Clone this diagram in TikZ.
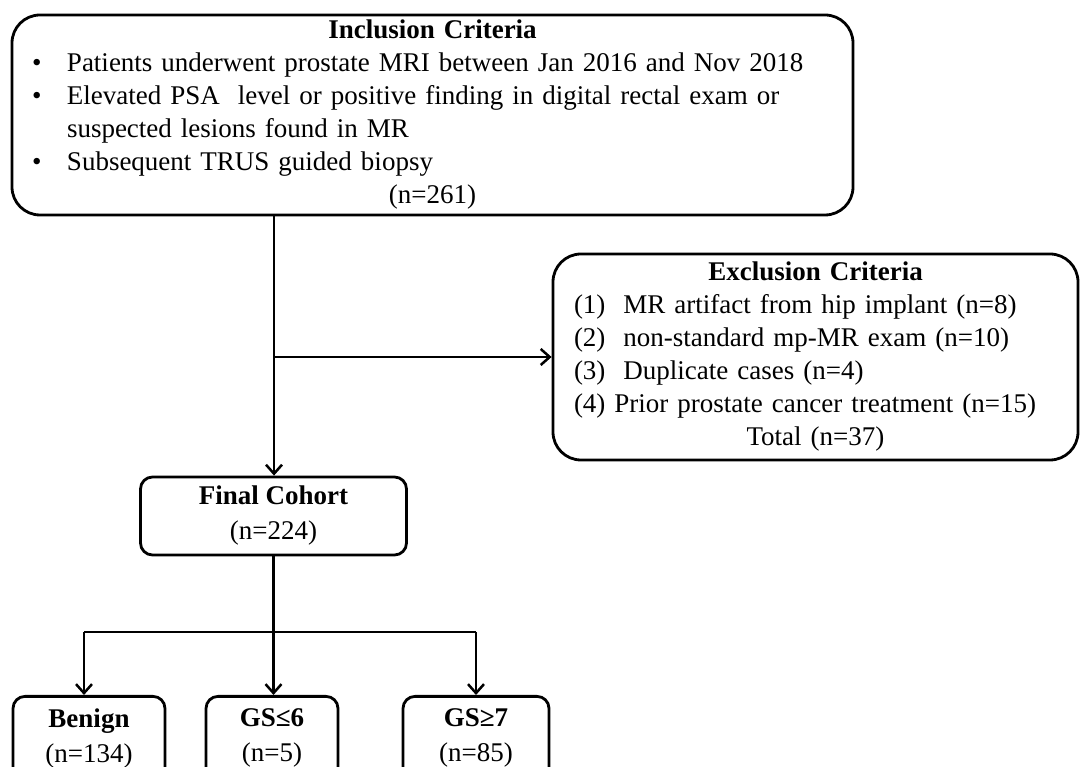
\documentclass[tikz,border=0pt]{standalone}
\usepackage{fontspec}
\setmainfont{Liberation Serif}
\usetikzlibrary{arrows.meta}
\tikzset{
  bigbox/.style={draw, line width=2.8pt, rounded corners=28pt, inner sep=0pt},
  smallbox/.style={draw, line width=2.8pt, rounded corners=12pt, inner sep=0pt, align=center},
  conn/.style={line width=2.5pt},
  arr/.style={conn, -{Straight Barb[length=9pt,width=16pt,line width=2.5pt]}}
}
\begin{document}
\begin{tikzpicture}[x=1pt,y=1pt,font=\fontsize{27}{33}\selectfont]
\useasboundingbox (0,0) rectangle (1081,767);
\clip (0,0) rectangle (1081,767);
\fill[white] (0,0) rectangle (1081,767);

\node[bigbox, minimum width=841pt, minimum height=200pt, text width=821pt, align=left] (incl) at (432.5,652) {%
\makebox[821pt]{\bfseries Inclusion Criteria}\\
\makebox[45pt][l]{\hspace{10pt}\textbullet}Patients underwent prostate MRI between Jan 2016 and Nov 2018\\
\makebox[45pt][l]{\hspace{10pt}\textbullet}Elevated PSA~ level or positive finding in digital rectal exam or\\
\hspace*{45pt}suspected lesions found in MR\\
\makebox[45pt][l]{\hspace{10pt}\textbullet}Subsequent TRUS guided biopsy\\
\makebox[821pt]{(n=261)}};

\node[bigbox, minimum width=525pt, minimum height=206pt, text width=483pt, align=left] (excl) at (815.5,410) {%
\makebox[483pt]{\bfseries Exclusion Criteria}\\
(1)~ MR artifact from hip implant (n=8)\\
(2)~ non-standard mp-MR exam (n=10)\\
(3)~ Duplicate cases (n=4)\\
(4) Prior prostate cancer treatment (n=15)\\
\makebox[483pt]{Total (n=37)}};

\node[smallbox, minimum width=266pt, minimum height=78pt] (final) at (273.5,251) {\textbf{Final Cohort}\\[2pt](n=224)};

\node[smallbox, minimum width=152pt, minimum height=84pt, anchor=north] (benign) at (89,72) {\textbf{Benign}\\[2pt](n=134)};
\node[smallbox, minimum width=132pt, minimum height=84pt, anchor=north] (gs6) at (272,72) {\textbf{GS≤6}\\[2pt](n=5)};
\node[smallbox, minimum width=146pt, minimum height=84pt, anchor=north] (gs7) at (476,72) {\textbf{GS≥7}\\[2pt](n=85)};

\coordinate (j1) at (274,410);
\coordinate (j2) at (273.5,135);
\coordinate (bl) at (84,135);
\coordinate (br) at (476,135);

\draw[arr] (incl.south -| j1) -- (final.north -| j1);
\draw[arr] (j1) -- (excl.west);
\draw[conn] (final.south) -- (j2);
\draw[conn] (bl) -- (br);
\draw[arr] (bl) -- (bl |- benign.north);
\draw[arr] (j2) -- (j2 |- gs6.north);
\draw[arr] (br) -- (gs7.north);
\end{tikzpicture}
\end{document}
